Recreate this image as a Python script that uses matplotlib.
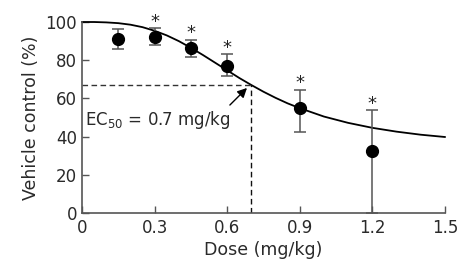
import matplotlib.pyplot as plt

plt.rcParams['font.family'] = ['DejaVu Sans']

# measured points
dose = [0.15, 0.3, 0.45, 0.6, 0.9, 1.2]
mean = [91.0, 92.3, 86.2, 77.1, 54.8, 32.6]
err_lo = [5.0, 4.2, 4.3, 5.4, 12.6, 32.6]
err_hi = [5.4, 4.4, 4.4, 5.9, 9.6, 21.2]
signif = [False, True, True, True, True, True]

# fitted curve
curve_x = [0.0, 0.05, 0.1, 0.15, 0.2, 0.25, 0.3, 0.35, 0.4, 0.45, 0.5, 0.55, 0.6, 0.65,
           0.7, 0.75, 0.8, 0.85, 0.9, 1.0, 1.1, 1.2, 1.3, 1.4, 1.5]
curve_y = [100.0, 100.0, 99.8, 99.4, 98.6, 97.3, 95.4, 93.0, 90.0, 86.5, 82.7, 78.7, 74.7, 70.7,
           67.0, 63.5, 60.3, 57.4, 54.9, 50.5, 47.2, 44.6, 42.6, 41.0, 39.8]

ec50 = 0.7
ec50_y = 67.0

fig = plt.figure(figsize=(4.61, 2.62), dpi=100)
ax = fig.add_axes([0.178, 0.187, 0.787, 0.729])

ax.plot(curve_x, curve_y, color='black', lw=1.3, clip_on=False, zorder=2)
ax.errorbar(dose, mean, yerr=[err_lo, err_hi], fmt='o', color='black', ms=8.5,
            ecolor='#555555', elinewidth=1.1, capsize=4, capthick=1.1, zorder=3, clip_on=False)

for x, y, e, s in zip(dose, mean, err_hi, signif):
    if s:
        ax.text(x, y + e + 3.5, '*', ha='center', va='center', fontsize=13, color='#222222')

ax.plot([0, ec50], [ec50_y, ec50_y], ls=(0, (4, 2.5)), color='#333333', lw=1)
ax.plot([ec50, ec50], [0, ec50_y], ls=(0, (4, 2.5)), color='#111111', lw=1)
ax.annotate('', xy=(0.69, 66.5), xytext=(0.603, 55.5),
            arrowprops=dict(arrowstyle='-|>', color='black', lw=1, mutation_scale=14))
ax.text(0.012, 48.7, r'EC$_{50}$ = 0.7 mg/kg', fontsize=12, va='center', ha='left', color='#2a2a2a')

ax.set_xlim(0, 1.5)
ax.set_ylim(0, 100)
ax.set_xticks([0, 0.3, 0.6, 0.9, 1.2, 1.5])
ax.set_xticklabels(['0', '0.3', '0.6', '0.9', '1.2', '1.5'])
ax.set_yticks([0, 20, 40, 60, 80, 100])
ax.tick_params(direction='in', length=5, width=1, colors='#555555', labelcolor='#2a2a2a', labelsize=12)
ax.tick_params(axis='x', pad=4)
for side in ['top', 'right']:
    ax.spines[side].set_visible(False)
for side in ['left', 'bottom']:
    ax.spines[side].set_color('#555555')
    ax.spines[side].set_linewidth(1.2)

ax.set_xlabel('Dose (mg/kg)', fontsize=12.5, color='#2a2a2a', labelpad=3)
ax.set_ylabel('Vehicle control (%)', fontsize=12.5, color='#2a2a2a', labelpad=4)

fig.savefig('out.png', dpi=100)
